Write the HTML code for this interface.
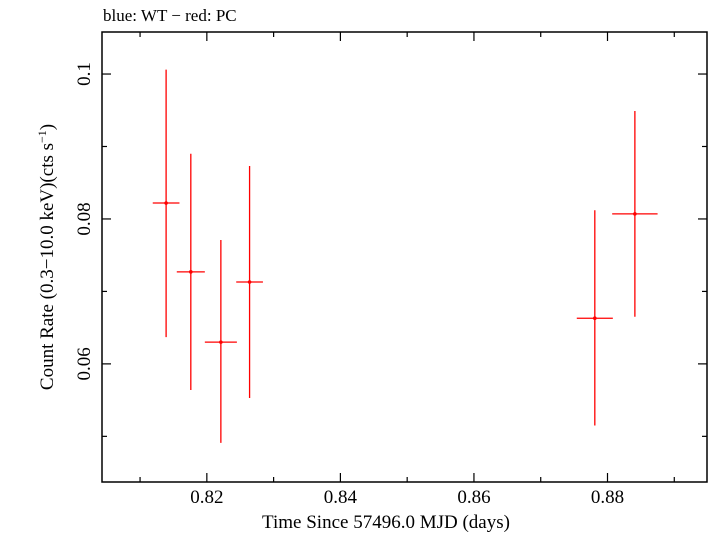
<!DOCTYPE html>
<html><head><meta charset="utf-8"><style>
html,body{margin:0;padding:0;background:#fff;}
svg text{font-family:"Liberation Serif",serif;fill:#000;}
</style></head><body>
<svg id="chart" width="709" height="532" viewBox="0 0 709 532" xmlns="http://www.w3.org/2000/svg">
<text x="103" y="21" font-size="17">blue: WT − red: PC</text>
<rect x="102" y="32" width="605" height="450" fill="none" stroke="#000" stroke-width="1.5"/>
<g id="axes"></g>
<g id="marks"></g>
<text x="386" y="528" font-size="19" text-anchor="middle">Time Since 57496.0 MJD (days)</text>
<text transform="translate(53,257) rotate(-90)" font-size="19" text-anchor="middle">Count Rate (0.3−10.0 keV)(cts s<tspan font-size="12" dy="-7">−1</tspan><tspan dy="7">)</tspan></text>
</svg>
<script>
const times=[0.8139,0.8176,0.8221,0.8264,0.8781,0.8841];
const timeErr=[0.0020,0.0021,0.0024,0.0020,0.0027,0.0034];
const rates=[0.0822,0.0727,0.0630,0.0713,0.0663,0.0807];
const rateHi=[0.1006,0.0890,0.0771,0.0873,0.0812,0.0949];
const rateLo=[0.0637,0.0564,0.0491,0.0553,0.0515,0.0665];
const xTicks=[0.82,0.84,0.86,0.88];
const xTickLabels=["0.82","0.84","0.86","0.88"];
const xMinor=[0.81,0.83,0.85,0.87,0.89];
const yTicks=[0.06,0.08,0.1];
const yTickLabels=["0.06","0.08","0.1"];
const yMinor=[0.05,0.07,0.09];

const L=102,R=707,T=32,B=482;
const x0=0.8043,x1=0.8949,y0=0.0437,y1=0.1058;
const sx=v=>L+(v-x0)/(x1-x0)*(R-L);
const sy=v=>B-(v-y0)/(y1-y0)*(B-T);
const NS="http://www.w3.org/2000/svg";
const axes=document.getElementById('axes'),marks=document.getElementById('marks');
function line(p,x1_,y1_,x2_,y2_,c,w,name){const l=document.createElementNS(NS,'line');
l.setAttribute('x1',x1_);l.setAttribute('y1',y1_);l.setAttribute('x2',x2_);l.setAttribute('y2',y2_);
l.setAttribute('stroke',c);l.setAttribute('stroke-width',w);


p.appendChild(l);return l;}
function text(x,y,s,anchor,rot,name){const t=document.createElementNS(NS,'text');
t.setAttribute('x',x);t.setAttribute('y',y);t.setAttribute('font-size','19');t.setAttribute('text-anchor',anchor);
if(rot)t.setAttribute('transform',`rotate(-90 ${x} ${y})`);t.textContent=s;


axes.appendChild(t);}
xTicks.forEach((v,i)=>{const x=sx(v);line(axes,x,B,x,B-9,'#000',1.2,'x-tick');line(axes,x,T,x,T+9,'#000',1.2,'x-tick-top');
text(x,503,xTickLabels[i],'middle',false,'x-tick-label');});
xMinor.forEach(v=>{const x=sx(v);line(axes,x,B,x,B-5,'#000',1.2,'x-minor-tick');line(axes,x,T,x,T+5,'#000',1.2,'x-minor-tick-top');});
yTicks.forEach((v,i)=>{const y=sy(v);line(axes,L,y,L+9,y,'#000',1.2,'y-tick');line(axes,R,y,R-9,y,'#000',1.2,'y-tick-right');
text(90,y,yTickLabels[i],'middle',true,'y-tick-label');});
yMinor.forEach(v=>{const y=sy(v);line(axes,L,y,L+5,y,'#000',1.2,'y-minor-tick');line(axes,R,y,R-5,y,'#000',1.2,'y-minor-tick-right');});
times.forEach((t,i)=>{const x=sx(t),y=sy(rates[i]);
line(marks,x,sy(rateHi[i]),x,sy(rateLo[i]),'#f00',1.3,'pc-error-bar-y');
line(marks,sx(t-timeErr[i]),y,sx(t+timeErr[i]),y,'#f00',1.3,'pc-error-bar-x');
const c=document.createElementNS(NS,'circle');c.setAttribute('cx',x);c.setAttribute('cy',y);c.setAttribute('r',1.8);c.setAttribute('fill','#f00');


marks.appendChild(c);});
</script>
</body></html>
